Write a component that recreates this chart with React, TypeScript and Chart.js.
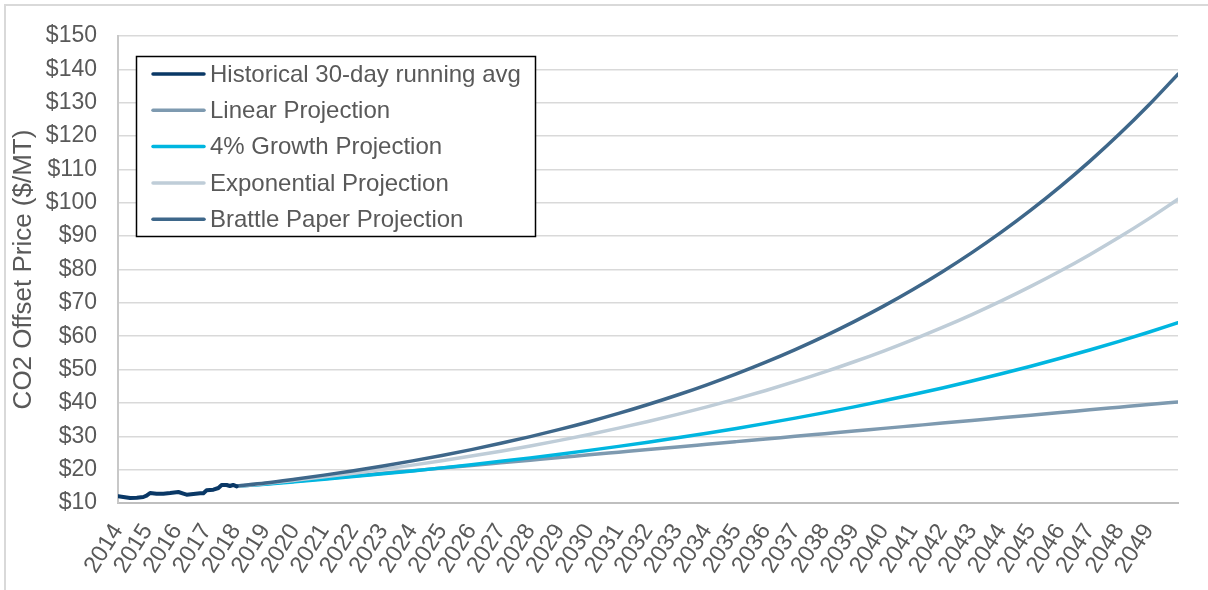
import { useEffect, useRef } from "react";
import { Chart, registerables } from "chart.js";

Chart.register(...registerables);

// ---- Data ----
const histYears = [
  2014.01, 2014.18, 2014.41, 2014.64, 2014.86, 2014.97, 2015.09, 2015.31, 2015.54, 2015.77,
  2016.05, 2016.22, 2016.33, 2016.56, 2016.79, 2016.9, 2017.01, 2017.24, 2017.41, 2017.52,
  2017.69, 2017.8, 2017.91, 2018.03,
];
const histValues = [
  12.0, 11.8, 11.5, 11.6, 11.8, 12.2, 13.0, 12.8, 12.8, 13.0,
  13.3, 12.8, 12.5, 12.7, 12.9, 12.9, 13.8, 14.0, 14.5, 15.4,
  15.4, 15.1, 15.4, 15.0,
];

const projYears = [
  2018.05, 2019, 2020, 2021, 2022, 2023, 2024, 2025, 2026, 2027, 2028, 2029, 2030, 2031,
  2032, 2033, 2034, 2035, 2036, 2037, 2038, 2039, 2040, 2041, 2042, 2043, 2044, 2045,
  2046, 2047, 2048, 2049, 2050,
];
const linearValues = [
  15.0, 15.71, 16.51, 17.3, 18.09, 18.89, 19.68, 20.47, 21.27, 22.06, 22.85, 23.64, 24.44,
  25.23, 26.02, 26.82, 27.61, 28.4, 29.19, 29.99, 30.78, 31.57, 32.37, 33.16, 33.95, 34.75,
  35.54, 36.33, 37.12, 37.92, 38.71, 39.5, 40.3,
];
const growthValues = [
  15.0, 15.63, 16.36, 17.12, 17.91, 18.75, 19.62, 20.53, 21.49, 22.49, 23.53, 24.63, 25.78,
  26.98, 28.23, 29.55, 30.92, 32.36, 33.87, 35.45, 37.1, 38.82, 40.63, 42.52, 44.5, 46.57,
  48.74, 51.01, 53.38, 55.87, 58.47, 61.19, 64.04,
];
const expValues = [
  15.0, 15.83, 16.81, 17.84, 18.94, 20.11, 21.35, 22.66, 24.06, 25.54, 27.11, 28.78, 30.56,
  32.44, 34.44, 36.56, 38.81, 41.2, 43.74, 46.44, 49.3, 52.34, 55.56, 58.99, 62.62, 66.48,
  70.58, 74.93, 79.54, 84.45, 89.65, 95.17, 101.04,
];
const brattleValues = [
  15.1, 15.97, 17.12, 18.36, 19.68, 21.1, 22.63, 24.26, 26.01, 27.89, 29.9, 32.06, 34.37,
  36.86, 39.52, 42.37, 45.43, 48.71, 52.22, 55.99, 60.03, 64.37, 69.01, 73.99, 79.34, 85.06,
  91.2, 97.79, 104.85, 112.42, 120.53, 129.24, 138.57,
];

const seriesLabels = [
  "Historical 30-day running avg",
  "Linear Projection",
  "4% Growth Projection",
  "Exponential Projection",
  "Brattle Paper Projection",
];
const seriesColors = ["#0A3866", "#7E9AB0", "#00B6E0", "#BFCDD8", "#3E678A"];

const xTickLabels = [
  "2014", "2015", "2016", "2017", "2018", "2019", "2020", "2021", "2022", "2023", "2024",
  "2025", "2026", "2027", "2028", "2029", "2030", "2031", "2032", "2033", "2034", "2035",
  "2036", "2037", "2038", "2039", "2040", "2041", "2042", "2043", "2044", "2045", "2046",
  "2047", "2048", "2049",
];
const yTickValues = [10, 20, 30, 40, 50, 60, 70, 80, 90, 100, 110, 120, 130, 140, 150];
const yTitle = "CO2 Offset Price ($/MT)";

const FONT = "'Liberation Sans', Arial, sans-serif";
const TEXT = "#595959";

function pts(xs: number[], ys: number[]) {
  return xs.map((x, i) => ({ x, y: ys[i] }));
}

const backgroundPlugin = {
  id: "bgFrame",
  beforeDraw(chart: any) {
    const ctx = chart.ctx;
    ctx.save();
    ctx.fillStyle = "#ffffff";
    ctx.fillRect(0, 0, chart.width, chart.height);
    ctx.strokeStyle = "#D9D9D9";
    ctx.lineWidth = 2;
    ctx.beginPath();
    ctx.moveTo(5, chart.height + 2);
    ctx.lineTo(5, 5);
    ctx.lineTo(chart.width + 2, 5);
    ctx.stroke();
    ctx.restore();
  },
};

const boxLegendPlugin = {
  id: "boxLegend",
  afterDatasetsDraw(chart: any) {
    const ctx = chart.ctx;
    const left = 136;
    const top = 56;
    const w = 400;
    const h = 181;
    ctx.save();
    ctx.fillStyle = "#ffffff";
    ctx.fillRect(left, top, w, h);
    ctx.strokeStyle = "#000000";
    ctx.lineWidth = 1.5;
    ctx.strokeRect(left + 0.5, top + 0.5, w - 1, h - 1);
    ctx.font = `24px ${FONT}`;
    ctx.textBaseline = "middle";
    ctx.textAlign = "left";
    const ds = chart.data.datasets;
    ds.forEach((d: any, i: number) => {
      const y = 74 + i * 36.3;
      ctx.strokeStyle = d.borderColor;
      ctx.lineWidth = 3.5;
      ctx.lineCap = "round";
      ctx.beginPath();
      ctx.moveTo(153, y);
      ctx.lineTo(204, y);
      ctx.stroke();
      ctx.fillStyle = TEXT;
      ctx.fillText(d.label, 210, y + 1);
    });
    ctx.restore();
  },
};

export default function App() {
  const ref = useRef<HTMLCanvasElement | null>(null);

  useEffect(() => {
    document.body.style.margin = "0";
    const canvas = ref.current;
    if (!canvas) return;
    Chart.defaults.font.family = FONT;

    const allValues = [histValues, linearValues, growthValues, expValues, brattleValues];
    const allYears = [histYears, projYears, projYears, projYears, projYears];
    const orders = [0, 4, 3, 2, 1];

    const chart = new Chart(canvas, {
      type: "line",
      data: {
        datasets: seriesLabels.map((label, i) => ({
          label,
          data: pts(allYears[i], allValues[i]),
          borderColor: seriesColors[i],
          backgroundColor: seriesColors[i],
          borderWidth: i === 0 ? 4 : 3.5,
          pointRadius: 0,
          fill: false,
          tension: 0,
          cubicInterpolationMode: i === 0 ? "default" : "monotone",
          borderCapStyle: "round",
          borderJoinStyle: "round",
          order: orders[i],
        })),
      },
      options: {
        animation: false,
        responsive: false,
        devicePixelRatio: 1,
        layout: { padding: { left: 0, top: 36, right: 30, bottom: 0 } },
        plugins: {
          legend: { display: false },
          tooltip: { enabled: false },
          title: { display: false },
        },
        scales: {
          x: {
            type: "linear",
            min: 2014,
            max: 2050,
            afterFit: (s: any) => {
              s.height = 87;
              s.paddingLeft = 0;
              s.paddingRight = 0;
            },
            grid: { display: false, drawTicks: false },
            border: { display: true, color: "#BFBFBF", width: 2 },
            ticks: {
              stepSize: 1,
              autoSkip: false,
              maxRotation: 58,
              minRotation: 58,
              padding: 16,
              color: TEXT,
              font: { size: 23.5, family: FONT },
              callback: (v: any) => {
                const idx = Math.round(Number(v)) - 2014;
                return idx >= 0 && idx < xTickLabels.length ? xTickLabels[idx] : "";
              },
            },
          },
          y: {
            type: "linear",
            min: yTickValues[0],
            max: yTickValues[yTickValues.length - 1],
            afterFit: (s: any) => {
              s.width = 118;
            },
            grid: { color: "#D9D9D9", lineWidth: 1.5, drawTicks: false },
            border: { display: true, color: "#C8C8C8", width: 2 },
            title: {
              display: true,
              text: yTitle,
              color: TEXT,
              font: { size: 26, family: FONT, weight: "normal" },
              padding: { top: 8, bottom: 0 },
            },
            ticks: {
              stepSize: 10,
              padding: 21,
              color: TEXT,
              font: { size: 23, family: FONT },
              callback: (v: any) => "$" + v,
            },
          },
        },
      },
      plugins: [backgroundPlugin, boxLegendPlugin],
    } as any);

    return () => {
      chart.destroy();
    };
  }, []);

  return (
    <div style={{ position: "fixed", left: 0, top: 0, width: 1208, height: 590, background: "#fff" }}>
      <canvas ref={ref} width={1208} height={590} style={{ display: "block", width: 1208, height: 590 }} />
    </div>
  );
}
